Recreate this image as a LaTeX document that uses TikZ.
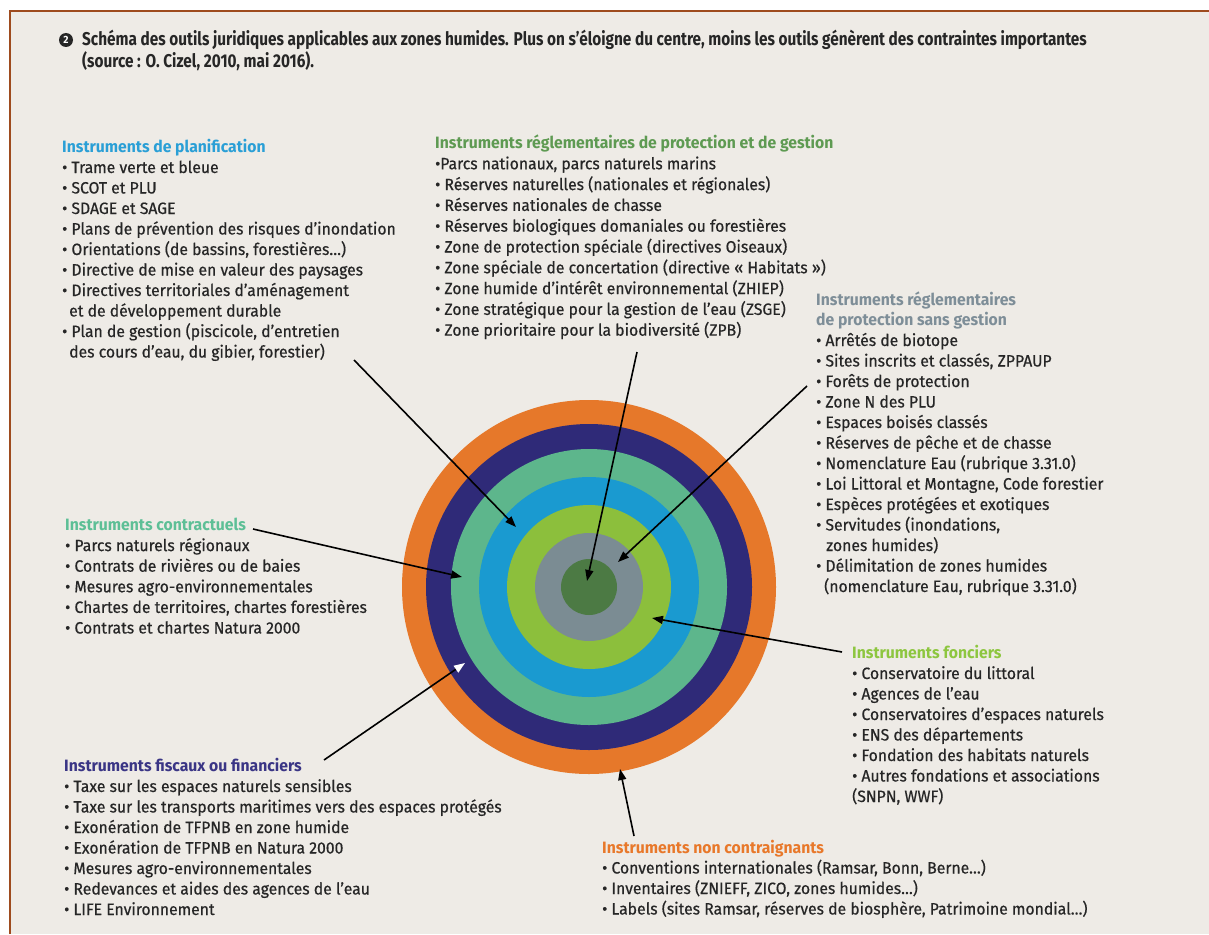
\documentclass[tikz,border=0pt]{standalone}
\usepackage{fontspec}
\setmainfont{Fira Sans}[FakeStretch=0.96, UprightFeatures={FakeBold=0.5}]
\newfontfamily\titlefont[FakeStretch=0.83]{Fira Sans}
\usetikzlibrary{arrows.meta}

\definecolor{paper}{HTML}{EEEBE6}
\definecolor{frame}{HTML}{9E4B1E}
\definecolor{txt}{HTML}{262626}
\definecolor{cOrange}{HTML}{E6782A}
\definecolor{cNavy}{HTML}{2F2A78}
\definecolor{cMint}{HTML}{5DB68C}
\definecolor{cBlue}{HTML}{1A9AD0}
\definecolor{cLime}{HTML}{8CBF3C}
\definecolor{cGrey}{HTML}{7B8C93}
\definecolor{cForest}{HTML}{4C7A44}
\definecolor{hPlan}{HTML}{2A9FD6}
\definecolor{hGest}{HTML}{5E9A52}
\definecolor{hSans}{HTML}{7E8E98}
\definecolor{hCont}{HTML}{5DBF96}
\definecolor{hFisc}{HTML}{3A3585}
\definecolor{hFonc}{HTML}{8DC63F}
\definecolor{hNon}{HTML}{E8782A}

\begin{document}
\begin{tikzpicture}[x=1pt,y=-1pt]
\tikzstyle{item}=[anchor=base west, inner sep=0pt, text=txt, font=\fontsize{16.4}{20}\selectfont]
\tikzstyle{head}=[item, font=\fontsize{16.4}{20}\selectfont\bfseries]
\tikzstyle{pointer}=[line width=1.6pt, -{Triangle[length=11pt,width=8pt]}]

\useasboundingbox (0,0) rectangle (1209,934);
\fill[white] (0,0) rectangle (1209,934);
\fill[paper] (10,11) rectangle (1209,934);
\draw[frame, line width=2pt] (10,934) -- (10,11) -- (1209,11);

% title
\node[circle, fill=txt, inner sep=0pt, minimum size=14pt, text=white,
  font=\bfseries\fontsize{10.5}{10}\selectfont] (num) at (66,40) {2};
\node[item, font=\titlefont\bfseries\fontsize{18.5}{20}\selectfont] (title1) at (82,46)
  {Schéma des outils juridiques applicables aux zones humides. Plus on s’éloigne du centre, moins les outils génèrent des contraintes importantes};
\node[item, font=\titlefont\bfseries\fontsize{18.5}{20}\selectfont] (title2) at (82,67)
  {(source : O. Cizel, 2010, mai 2016).};

% rings
\coordinate (ctr) at (589,587);
\foreach \r/\c in {187/cOrange,163/cNavy,138/cMint,110/cBlue,82/cLime,54/cGrey,28/cForest}
  \fill[\c] (ctr) circle[radius=\r pt];

% planification
\node[head, text=hPlan] (planHead) at (62,152.5) {Instruments de planification};
\foreach \t [count=\i] in {{• Trame verte et bleue},{• SCOT et PLU},{• SDAGE et SAGE},
  {• Plans de prévention des risques d’inondation},{• Orientations (de bassins, forestières…)},
  {• Directive de mise en valeur des paysages},{• Directives territoriales d’aménagement},
  {\hspace{7pt}et de développement durable},{• Plan de gestion (piscicole, d’entretien},
  {\hspace{7pt}des cours d’eau, du gibier, forestier)}}
  \node[item] (plan\i) at (62,{152.5+20.5*\i}) {\t};

% protection et gestion
\node[head, text=hGest] (gestHead) at (435,148.5) {Instruments réglementaires de protection et de gestion};
\foreach \t [count=\i] in {{•Parcs nationaux, parcs naturels marins},
  {• Réserves naturelles (nationales et régionales)},{• Réserves nationales de chasse},
  {• Réserves biologiques domaniales ou forestières},{• Zone de protection spéciale (directives Oiseaux)},
  {• Zone spéciale de concertation (directive « Habitats »)},{• Zone humide d’intérêt environnemental (ZHIEP)},
  {• Zone stratégique pour la gestion de l’eau (ZSGE)},{• Zone prioritaire pour la biodiversité (ZPB)}}
  \node[item] (gest\i) at (435,{148.5+20.8*\i}) {\t};

% protection sans gestion
\node[head, text=hSans] (sansHead) at (816,305) {Instruments réglementaires};
\node[head, text=hSans] (sansHeadB) at (816,325.5) {de protection sans gestion};
\foreach \t [count=\i] in {{• Arrêtés de biotope},{• Sites inscrits et classés, ZPPAUP},
  {• Forêts de protection},{• Zone N des PLU},{• Espaces boisés classés},
  {• Réserves de pêche et de chasse},{• Nomenclature Eau (rubrique 3.31.0)},
  {• Loi Littoral et Montagne, Code forestier},{• Espèces protégées et exotiques},
  {• Servitudes (inondations,},{\hspace{10pt}zones humides)},{• Délimitation de zones humides},
  {\hspace{8pt}(nomenclature Eau, rubrique 3.31.0)}}
  \node[item] (sans\i) at (816,{325.5+20.5*\i}) {\t};

% contractuels
\node[head, text=hCont] (contHead) at (65,530.5) {Instruments contractuels};
\foreach \t [count=\i] in {{• Parcs naturels régionaux},{• Contrats de rivières ou de baies},
  {• Mesures agro-environnementales},{• Chartes de territoires, chartes forestières},
  {• Contrats et chartes Natura 2000}}
  \node[item] (cont\i) at (65,{530.5+20.6*\i}) {\t};

% fonciers
\node[head, text=hFonc] (foncHead) at (852,658.5) {Instruments fonciers};
\foreach \t [count=\i] in {{• Conservatoire du littoral},{• Agences de l’eau},
  {• Conservatoires d’espaces naturels},{• ENS des départements},
  {• Fondation des habitats naturels},{• Autres fondations et associations},{(SNPN, WWF)}}
  \node[item] (fonc\i) at (852,{658.5+20.5*\i}) {\t};

% fiscaux
\node[head, text=hFisc] (fiscHead) at (64,771.5) {Instruments fiscaux ou financiers};
\foreach \t [count=\i] in {{• Taxe sur les espaces naturels sensibles},
  {• Taxe sur les transports maritimes vers des espaces protégés},
  {• Exonération de TFPNB en zone humide},{• Exonération de TFPNB en Natura 2000},
  {• Mesures agro-environnementales},{• Redevances et aides des agences de l’eau},
  {• LIFE Environnement}}
  \node[item] (fisc\i) at (64,{771.5+20.5*\i}) {\t};

% non contraignants
\node[head, text=hNon] (nonHead) at (602,853) {Instruments non contraignants};
\foreach \t [count=\i] in {{• Conventions internationales (Ramsar, Bonn, Berne…)},
  {• Inventaires (ZNIEFF, ZICO, zones humides…)},
  {• Labels (sites Ramsar, réserves de biosphère, Patrimoine mondial…)}}
  \node[item] (non\i) at (602,{853+20.5*\i}) {\t};

% arrows
\coordinate (planTail) at (354,360);  \coordinate (planTip) at (516,527);
\coordinate (gestTail) at (637,352);  \coordinate (gestTip) at (587,581);
\coordinate (sansTail) at (807,386);  \coordinate (sansTip) at (618,562);
\coordinate (contTail) at (253,529);  \coordinate (contTip) at (462,577);
\coordinate (fiscTail) at (324,760);  \coordinate (fiscTip) at (465,663);
\coordinate (foncTail) at (842,652);  \coordinate (foncTip) at (652,618);
\coordinate (nonTail) at (634,836);   \coordinate (nonTip) at (620,769);

\draw[pointer] (planTail) -- (planTip);
\draw[pointer] (gestTail) -- (gestTip);
\draw[pointer] (sansTail) -- (sansTip);
\draw[pointer] (contTail) -- (contTip);
\draw[pointer, -{Triangle[length=11pt,width=8pt,color=white]}] (fiscTail) -- (fiscTip);
\draw[pointer] (foncTail) -- (foncTip);
\draw[pointer] (nonTail) -- (nonTip);

\end{tikzpicture}
\end{document}
